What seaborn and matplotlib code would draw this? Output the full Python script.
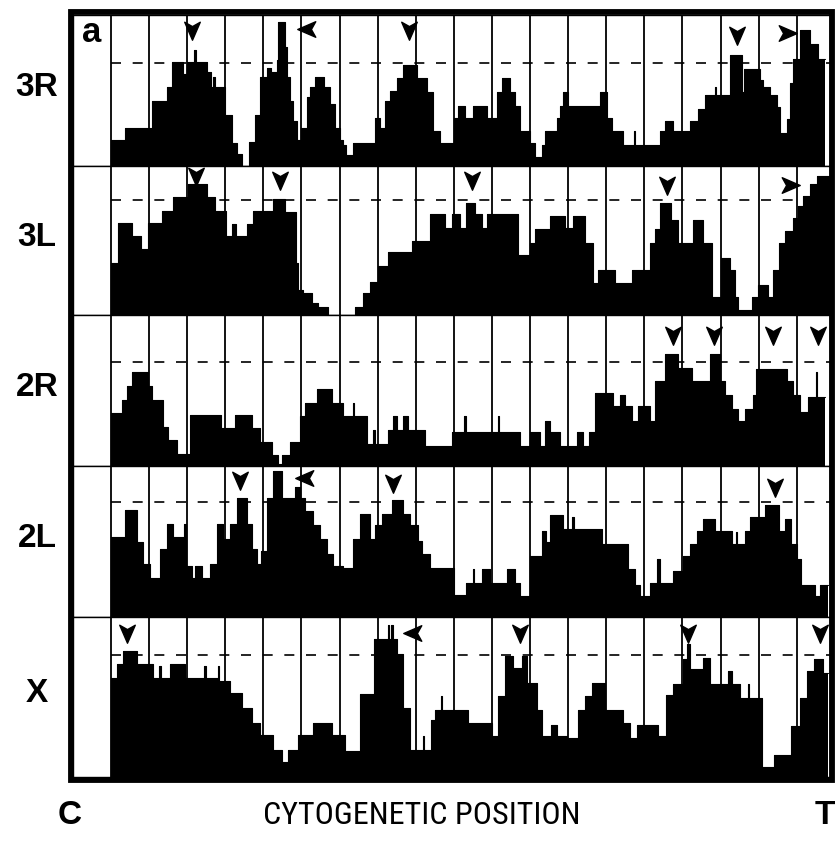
import numpy as np
import matplotlib
matplotlib.use("Agg")
import matplotlib.pyplot as plt
from matplotlib.path import Path
from matplotlib.patches import Rectangle
from matplotlib import font_manager
import seaborn as sns

# ---- step profiles along each arm (start of each step, relative height) ----
arms = ["3R", "3L", "2R", "2L", "X"]

pos_3R = [0.00, 0.37, 1.07, 1.46, 1.59, 1.90, 2.00, 2.18, 2.22, 2.51,
          2.62, 2.68, 2.72, 3.00, 3.17, 3.30, 3.43, 3.63, 3.78, 3.91,
          4.09, 4.20, 4.35, 4.39, 4.57, 4.63, 4.70, 4.79, 4.88, 5.00,
          5.14, 5.22, 5.35, 5.60, 5.75, 5.88, 6.01, 6.10, 6.18, 6.36,
          6.93, 7.06, 7.19, 7.32, 7.50, 7.67, 8.02, 8.29, 8.46, 8.64,
          8.99, 9.12, 9.29, 9.51, 9.86, 10.12, 10.25, 10.47, 10.60, 10.73,
          10.99, 11.13, 11.30, 11.39, 11.70, 11.78, 11.87, 12.00, 12.83, 13.01,
          13.14, 13.45, 13.72, 13.76, 14.41, 14.54, 14.76, 15.19, 15.41, 15.59,
          15.84, 15.88, 16.24, 16.55, 16.62, 17.03, 17.12, 17.30, 17.47, 17.56,
          17.73, 17.82, 17.90, 18.09, 18.35, 18.56]
val_3R = [0.17, 0.25, 0.43, 0.52, 0.69, 0.61, 0.69, 0.77, 0.69, 0.62,
          0.52, 0.59, 0.52, 0.34, 0.15, 0.08, 0.00, 0.16, 0.34, 0.59,
          0.65, 0.62, 0.70, 0.955, 0.79, 0.59, 0.43, 0.30, 0.17, 0.25,
          0.46, 0.52, 0.59, 0.52, 0.41, 0.25, 0.17, 0.14, 0.07, 0.15,
          0.32, 0.25, 0.43, 0.50, 0.58, 0.67, 0.58, 0.49, 0.23, 0.15,
          0.32, 0.40, 0.32, 0.40, 0.32, 0.49, 0.58, 0.49, 0.40, 0.23,
          0.15, 0.06, 0.14, 0.23, 0.32, 0.40, 0.49, 0.40, 0.49, 0.32,
          0.23, 0.14, 0.23, 0.14, 0.23, 0.30, 0.23, 0.30, 0.38, 0.47,
          0.52, 0.47, 0.735, 0.49, 0.64, 0.57, 0.52, 0.47, 0.39, 0.22,
          0.31, 0.55, 0.71, 0.90, 0.81, 0.71]

pos_3L = [0.00, 0.19, 0.54, 0.80, 0.98, 1.33, 1.64, 2.03, 2.51, 2.73,
          3.03, 3.17, 3.27, 3.56, 3.74, 4.26, 4.57, 4.85, 4.92, 5.05,
          5.27, 5.44, 5.70, 6.40, 6.62, 6.80, 7.02, 7.28, 7.89, 8.37,
          8.77, 8.94, 9.16, 9.33, 9.55, 9.73, 9.86, 10.69, 10.99, 11.13,
          11.52, 11.92, 12.13, 12.44, 12.66, 12.79, 13.23, 13.67, 14.15, 14.28,
          14.41, 14.71, 14.89, 15.28, 15.55, 15.77, 16.00, 16.25, 16.38, 16.46,
          16.82, 16.99, 17.25, 17.38, 17.52, 17.69, 17.91, 18.04, 18.17, 18.35,
          18.52]
val_3L = [0.35, 0.62, 0.53, 0.44, 0.62, 0.70, 0.79, 0.88, 0.79, 0.70,
          0.53, 0.61, 0.53, 0.61, 0.70, 0.78, 0.69, 0.35, 0.17, 0.15,
          0.08, 0.056, 0.0, 0.056, 0.15, 0.22, 0.33, 0.42, 0.50, 0.676,
          0.586, 0.676, 0.586, 0.755, 0.676, 0.586, 0.676, 0.405, 0.486, 0.574,
          0.664, 0.586, 0.664, 0.486, 0.214, 0.304, 0.214, 0.304, 0.486, 0.574,
          0.755, 0.64, 0.486, 0.64, 0.486, 0.124, 0.383, 0.304, 0.124, 0.034,
          0.124, 0.20, 0.124, 0.304, 0.486, 0.563, 0.653, 0.73, 0.80, 0.878,
          0.935]

pos_2R = [0.00, 0.28, 0.42, 0.55, 0.98, 1.07, 1.37, 1.50, 1.72, 2.07,
          2.90, 3.25, 3.69, 3.91, 4.22, 4.39, 4.48, 4.70, 4.96, 5.09,
          5.40, 5.79, 6.10, 6.34, 6.38, 6.71, 6.88, 6.92, 7.28, 7.41,
          7.50, 7.67, 7.80, 8.24, 8.94, 9.27, 9.31, 10.15, 10.19, 10.74,
          10.99, 11.26, 11.39, 11.52, 11.78, 12.22, 12.40, 12.54, 12.70, 13.18,
          13.36, 13.49, 13.67, 13.84, 14.15, 14.28, 14.54, 14.89, 15.24, 15.72,
          15.98, 16.11, 16.29, 16.46, 16.64, 16.86, 16.94, 17.74, 17.91, 18.09,
          18.30, 18.50, 18.54]
val_2R = [0.35, 0.44, 0.53, 0.62, 0.53, 0.44, 0.26, 0.17, 0.08, 0.34,
          0.25, 0.34, 0.25, 0.16, 0.07, 0.01, 0.07, 0.16, 0.33, 0.42,
          0.51, 0.42, 0.33, 0.42, 0.33, 0.146, 0.24, 0.146, 0.236, 0.33,
          0.236, 0.33, 0.236, 0.135, 0.226, 0.33, 0.226, 0.33, 0.226, 0.135,
          0.226, 0.135, 0.30, 0.226, 0.135, 0.226, 0.135, 0.226, 0.486, 0.395,
          0.47, 0.395, 0.30, 0.395, 0.30, 0.56, 0.745, 0.65, 0.56, 0.745,
          0.56, 0.47, 0.38, 0.30, 0.38, 0.47, 0.64, 0.56, 0.47, 0.36,
          0.46, 0.62, 0.46]

pos_2L = [0.00, 0.37, 0.68, 0.85, 1.02, 1.29, 1.46, 1.64, 1.92, 1.96,
          2.12, 2.20, 2.38, 2.60, 2.77, 2.95, 3.12, 3.30, 3.56, 3.69,
          3.82, 3.95, 4.09, 4.26, 4.48, 4.83, 4.96, 5.09, 5.31, 5.48,
          5.66, 5.83, 6.10, 6.36, 6.53, 6.80, 6.93, 7.10, 7.37, 7.67,
          7.85, 8.07, 8.15, 8.37, 8.99, 9.33, 9.49, 9.53, 9.73, 9.95,
          10.39, 10.60, 10.74, 10.99, 11.30, 11.43, 11.52, 11.87, 12.11, 12.15,
          12.88, 13.58, 13.75, 13.88, 14.15, 14.32, 14.40, 14.76, 15.02, 15.20,
          15.37, 15.55, 15.85, 16.29, 16.40, 16.44, 16.64, 16.77, 17.16, 17.52,
          17.69, 17.86, 18.00, 18.12, 18.48, 18.61]
val_2L = [0.53, 0.71, 0.494, 0.349, 0.26, 0.45, 0.617, 0.53, 0.617, 0.34,
          0.26, 0.34, 0.26, 0.349, 0.617, 0.517, 0.617, 0.785, 0.617, 0.45,
          0.349, 0.44, 0.785, 0.964, 0.785, 0.864, 0.785, 0.70, 0.606, 0.517,
          0.416, 0.34, 0.327, 0.517, 0.685, 0.517, 0.606, 0.685, 0.774, 0.685,
          0.606, 0.506, 0.416, 0.327, 0.148, 0.226, 0.315, 0.226, 0.315, 0.226,
          0.315, 0.226, 0.137, 0.405, 0.572, 0.494, 0.673, 0.584, 0.66, 0.584,
          0.483, 0.315, 0.215, 0.137, 0.226, 0.383, 0.226, 0.304, 0.405, 0.483,
          0.572, 0.65, 0.572, 0.483, 0.56, 0.483, 0.572, 0.66, 0.74, 0.572,
          0.65, 0.483, 0.383, 0.215, 0.137, 0.215]

pos_X = [0.00, 0.15, 0.32, 0.68, 1.11, 1.27, 1.31, 1.55, 1.94, 2.45,
         2.49, 2.80, 2.84, 3.12, 3.43, 3.69, 3.91, 4.26, 4.48, 4.65,
         4.92, 5.31, 5.79, 6.14, 6.53, 6.89, 7.26, 7.30, 7.36, 7.40,
         7.50, 7.67, 7.85, 8.18, 8.22, 8.41, 8.50, 8.66, 8.70, 9.38,
         9.99, 10.17, 10.34, 10.56, 10.78, 10.91, 11.17, 11.30, 11.56, 11.70,
         11.96, 12.27, 12.44, 12.62, 12.97, 13.45, 13.62, 13.80, 14.37, 14.58,
         14.76, 15.02, 15.11, 15.20, 15.55, 15.72, 16.20, 16.29, 16.51, 16.71,
         16.75, 17.08, 17.39, 17.86, 18.09, 18.26, 18.44, 18.70]
val_X = [0.62, 0.705, 0.788, 0.705, 0.62, 0.694, 0.62, 0.705, 0.62, 0.694,
         0.62, 0.694, 0.60, 0.526, 0.43, 0.338, 0.264, 0.17, 0.096, 0.17,
         0.264, 0.338, 0.264, 0.16, 0.516, 0.862, 0.95, 0.862, 0.95, 0.862,
         0.767, 0.43, 0.17, 0.254, 0.17, 0.358, 0.421, 0.505, 0.421, 0.338,
         0.254, 0.505, 0.757, 0.684, 0.757, 0.59, 0.421, 0.254, 0.327, 0.254,
         0.243, 0.421, 0.505, 0.59, 0.421, 0.338, 0.243, 0.327, 0.254, 0.51,
         0.579, 0.736, 0.83, 0.673, 0.746, 0.579, 0.66, 0.579, 0.495, 0.58,
         0.495, 0.065, 0.138, 0.317, 0.495, 0.662, 0.736, 0.652]

# telomeric end of each profile
arm_end = [18.74, 18.96, 18.74, 18.83, 18.83]
# reference (dashed) level of each arm
ref_level = [0.68, 0.77, 0.69, 0.76, 0.76]

# marked peaks: (position, height)
down_marks = {
    "3R": ([2.13, 7.82, 16.43], [0.90, 0.90, 0.87]),
    "3L": ([2.23, 4.44, 9.47, 14.59], [0.93, 0.905, 0.905, 0.87]),
    "2R": ([14.75, 15.83, 17.37, 18.56], [0.87, 0.87, 0.87, 0.87]),
    "2L": ([3.39, 7.41, 17.43], [0.91, 0.89, 0.86]),
    "X":  ([0.41, 10.73, 15.14, 18.60], [0.90, 0.90, 0.90, 0.90]),
}
left_marks = {"3R": ([5.14], [0.91]), "2L": ([5.09], [0.92]), "X": ([7.93], [0.90])}
right_marks = {"3R": ([17.73], [0.88]), "3L": ([17.82], [0.87])}

profiles = {
    "3R": (pos_3R, val_3R), "3L": (pos_3L, val_3L), "2R": (pos_2R, val_2R),
    "2L": (pos_2L, val_2L), "X": (pos_X, val_X),
}

# ---- figure ----
sns.set_style("white")
plt.rcParams["font.family"] = ["Liberation Sans", "DejaVu Sans"]
plt.rcParams["text.color"] = "black"

# narrow face for the axis caption, if one is installed
narrow_family = ["Liberation Sans"]
installed = {f.name for f in font_manager.fontManager.ttflist}
for cand in ["Liberation Sans Narrow", "Arial Narrow", "Roboto Condensed",
             "Open Sans Condensed", "DejaVu Sans Condensed"]:
    if cand in installed:
        narrow_family = [cand, "Liberation Sans"]
        break
narrow_stretch = "normal"
if narrow_family == ["Liberation Sans"]:
    condensed = [f for f in font_manager.fontManager.ttflist
                 if f.name == "DejaVu Sans" and str(f.stretch) in ("condensed", "semi-condensed", "75", "87")]
    if condensed:
        narrow_family = ["DejaVu Sans"]
        narrow_stretch = "condensed"

W, H = 837, 842
fig = plt.figure(figsize=(W / 100, H / 100), dpi=100)
fig.patch.set_facecolor("white")

def fx(px):
    return px / W

def fy(py):
    return 1 - py / H

# notched arrowhead markers
def arrow_marker(angle):
    verts = np.array([(0, -1), (-0.8, 0.85), (0, 0.4), (0.8, 0.85), (0, -1)])
    a = np.deg2rad(angle)
    rot = np.array([[np.cos(a), -np.sin(a)], [np.sin(a), np.cos(a)]])
    verts = verts @ rot.T
    codes = [Path.MOVETO, Path.LINETO, Path.LINETO, Path.LINETO, Path.CLOSEPOLY]
    return Path(verts, codes)

m_down = arrow_marker(0)
m_left = arrow_marker(-90)
m_right = arrow_marker(90)

panel_px = [(15, 166), (166, 315), (315, 466), (466, 617), (617, 777)]
x_left_px, x_right_px = 73, 830
unit_px, origin_px = 38.1, 111
xlim = ((x_left_px - origin_px) / unit_px, (x_right_px - origin_px) / unit_px)

for i, arm in enumerate(arms):
    top, bot = panel_px[i]
    ax = fig.add_axes([fx(x_left_px), fy(bot), fx(x_right_px - x_left_px), (bot - top) / H])
    ax.set_xlim(*xlim)
    ax.set_ylim(0, 1)
    ax.set_xticks([])
    ax.set_yticks([])
    for s in ax.spines.values():
        s.set_color("black")
        s.set_linewidth(1.0)

    # division lines
    ax.vlines(np.arange(0, 19), 0, 1, color="black", lw=1.3, zorder=1)
    # reference level
    ax.hlines(ref_level[i], 0, xlim[1], color="black", lw=1.2,
              linestyles=(0, (6, 7)), zorder=1)

    pos, val = profiles[arm]
    xs = np.append(pos, arm_end[i])
    ys = np.append(val, val[-1])
    ax.fill_between(xs, ys, 0, step="post", color="black", lw=0, zorder=2)
    sns.lineplot(x=xs, y=ys, drawstyle="steps-post", color="black", lw=0.8,
                 estimator=None, sort=False, ax=ax, zorder=3, legend=False)
    ax.set_xlabel("")
    ax.set_ylabel("")

    if arm in down_marks:
        px_, py_ = down_marks[arm]
        ax.plot(px_, py_, ls="none", marker=m_down, ms=14, color="black", zorder=4)
    if arm in left_marks:
        px_, py_ = left_marks[arm]
        ax.plot(px_, py_, ls="none", marker=m_left, ms=14, color="black", zorder=4)
    if arm in right_marks:
        px_, py_ = right_marks[arm]
        ax.plot(px_, py_, ls="none", marker=m_right, ms=14, color="black", zorder=4)

    fig.text(fx(37), fy((top + bot) / 2 - 3), arm, ha="center", va="center",
             fontsize=24, fontweight="bold", color="black")

# heavy outer frame
fig.patches.append(Rectangle((fx(70.5), fy(780)), fx(832.5 - 70.5), (780 - 11.5) / H,
                             transform=fig.transFigure, fill=False,
                             edgecolor="black", lw=4.2, zorder=10))

fig.text(fx(92), fy(33), "a", ha="center", va="center", fontsize=25,
         fontweight="bold", color="black")

fig.text(fx(70), fy(815), "C", ha="center", va="center", fontsize=24,
         fontweight="bold", color="black")
cap = fig.text(fx(422), fy(815), "CYTOGENETIC POSITION", ha="center", va="center",
               fontsize=23, family=narrow_family, stretch=narrow_stretch,
               fontweight="normal", color="black")
fig.text(fx(825), fy(815), "T", ha="center", va="center", fontsize=24,
         fontweight="bold", color="black")

# keep the caption to its printed width
fig.canvas.draw()
bb = cap.get_window_extent()
if bb.width > 318:
    cap.set_fontsize(23 * 318 / bb.width)

fig.savefig("out.png", dpi=100, facecolor="white")
